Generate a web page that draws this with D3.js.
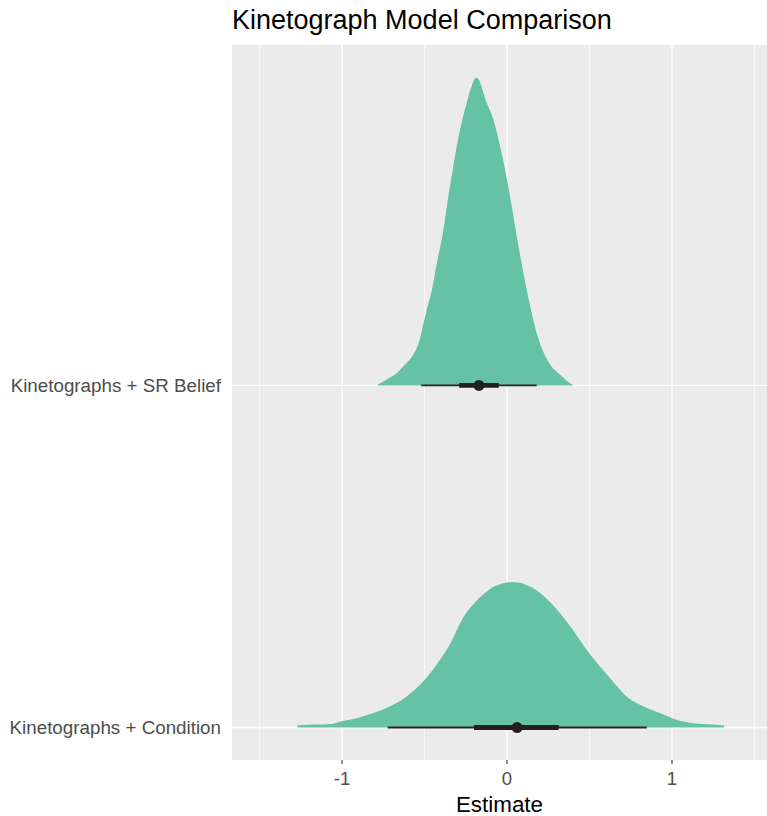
<!DOCTYPE html>
<html>
<head>
<meta charset="utf-8">
<script src="https://cdn.jsdelivr.net/npm/d3@7"></script>
<style>
  html, body { margin: 0; padding: 0; background: #ffffff; }
  svg { display: block; }
</style>
</head>
<body>
<svg id="chart" width="767" height="816"></svg>
<script>
// ---- data ----
const categories = ["Kinetographs + Condition", "Kinetographs + SR Belief"];

// density outlines (x = estimate, d = relative density)
const srBeliefX = [-0.785, -0.780, -0.729, -0.668, -0.618, -0.568, -0.532, -0.507, -0.483, -0.456, -0.426, -0.386, -0.362, -0.329, -0.293, -0.244, -0.184, -0.123, -0.083, -0.056, -0.012, 0.026, 0.053, 0.089, 0.129, 0.176, 0.210, 0.261, 0.321, 0.392, 0.398];
const srBeliefD = [0.003, 0.004, 0.019, 0.040, 0.068, 0.100, 0.144, 0.199, 0.253, 0.307, 0.395, 0.504, 0.591, 0.700, 0.809, 0.918, 1.000, 0.918, 0.864, 0.809, 0.700, 0.591, 0.504, 0.395, 0.286, 0.177, 0.122, 0.068, 0.035, 0.004, 0.003];

const conditionX = [-1.270, -1.265, -1.062, -1.002, -0.911, -0.810, -0.709, -0.608, -0.507, -0.426, -0.345, -0.265, -0.184, -0.103, -0.040, 0.000, 0.040, 0.079, 0.130, 0.180, 0.281, 0.382, 0.503, 0.624, 0.725, 0.826, 0.927, 1.028, 1.129, 1.311, 1.316];
const conditionD = [0.006, 0.007, 0.011, 0.020, 0.030, 0.047, 0.069, 0.101, 0.150, 0.205, 0.271, 0.358, 0.412, 0.450, 0.466, 0.471, 0.472, 0.470, 0.460, 0.445, 0.396, 0.330, 0.238, 0.161, 0.101, 0.069, 0.047, 0.025, 0.014, 0.007, 0.006];

// point + interval summaries (order follows categories)
const medians = [0.061, -0.170];
const lower66 = [-0.200, -0.290];
const upper66 = [0.313, -0.050];
const lower95 = [-0.723, -0.520];
const upper95 = [0.847, 0.180];

const xTicks = [-1, 0, 1];
const xMinor = [-1.5, -0.5, 0.5, 1.5];

const titleText = "Kinetograph Model Comparison";
const xTitle = "Estimate";

// ---- layout ----
const svg = d3.select("#chart");
const panel = { left: 232, right: 767, top: 45, bottom: 760 };
const font = "Liberation Sans, Arial, sans-serif";

const x = d3.scaleLinear().domain([-1.667, 1.576]).range([panel.left, panel.right]);
// categories at positions 1 and 2, continuous expansion like ggplot
const y = d3.scaleLinear().domain([0.905, 2.995]).range([panel.bottom, panel.top]);
const catPos = d3.scaleOrdinal().domain(categories).range([1, 2]);

const maxD = d3.max(srBeliefD.concat(conditionD));
const thick = d3.scaleLinear().domain([0, maxD]).range([0, 0.9]);

// panel background
svg.append("rect")
  .attr("x", panel.left).attr("y", panel.top)
  .attr("width", panel.right - panel.left).attr("height", panel.bottom - panel.top)
  .attr("fill", "#EBEBEB");

// gridlines
svg.append("g").selectAll("line").data(xMinor).join("line")
  .attr("x1", d => x(d)).attr("x2", d => x(d))
  .attr("y1", panel.top).attr("y2", panel.bottom)
  .attr("stroke", "#ffffff").attr("stroke-width", 0.7);
svg.append("g").selectAll("line").data(xTicks).join("line")
  .attr("x1", d => x(d)).attr("x2", d => x(d))
  .attr("y1", panel.top).attr("y2", panel.bottom)
  .attr("stroke", "#ffffff").attr("stroke-width", 1.3);
svg.append("g").selectAll("line").data(categories).join("line")
  .attr("x1", panel.left).attr("x2", panel.right)
  .attr("y1", d => y(catPos(d))).attr("y2", d => y(catPos(d)))
  .attr("stroke", "#ffffff").attr("stroke-width", 1.3);

// densities
const densities = [
  { cat: categories[0], xs: conditionX, ds: conditionD },
  { cat: categories[1], xs: srBeliefX, ds: srBeliefD }
];
const area = d3.area().curve(d3.curveMonotoneX);
densities.forEach(s => {
  const base = catPos(s.cat);
  const pts = s.xs.map((v, i) => [v, s.ds[i]]);
  area.x(d => x(d[0]))
      .y0(() => y(base))
      .y1(d => y(base + thick(d[1])));
  svg.append("path").datum(pts)
    .attr("d", area)
    .attr("fill", "#66C2A5");
});

// intervals
const ig = svg.append("g");
categories.forEach((c, i) => {
  const yy = y(catPos(c));
  ig.append("line")
    .attr("x1", x(lower95[i])).attr("x2", x(upper95[i]))
    .attr("y1", yy).attr("y2", yy)
    .attr("stroke", "#2b2526").attr("stroke-width", 1.8);
  ig.append("line")
    .attr("x1", x(lower66[i])).attr("x2", x(upper66[i]))
    .attr("y1", yy).attr("y2", yy)
    .attr("stroke", "#231e1f").attr("stroke-width", 4.8);
  ig.append("circle")
    .attr("cx", x(medians[i])).attr("cy", yy).attr("r", 5.5)
    .attr("fill", "#231e1f");
});

// x axis
const xa = svg.append("g");
xa.selectAll("line").data(xTicks).join("line")
  .attr("x1", d => x(d)).attr("x2", d => x(d))
  .attr("y1", panel.bottom).attr("y2", panel.bottom + 4)
  .attr("stroke", "#333333").attr("stroke-width", 1.1);
xa.selectAll("text").data(xTicks).join("text")
  .attr("x", d => x(d)).attr("y", panel.bottom + 25)
  .attr("text-anchor", "middle")
  .attr("font-family", font)
  .attr("font-size", 18.6)
  .attr("fill", "#4D4D4D")
  .text(d => d);

// y axis labels
svg.append("g").selectAll("text").data(categories).join("text")
  .attr("x", panel.left - 11).attr("y", d => y(catPos(d)))
  .attr("dy", "0.35em")
  .attr("text-anchor", "end")
  .attr("font-family", font)
  .attr("font-size", 18.8)
  .attr("fill", "#4D4D4D")
  .text(d => d);

// titles
svg.append("text")
  .attr("x", (panel.left + panel.right) / 2).attr("y", 812)
  .attr("text-anchor", "middle")
  .attr("font-family", font)
  .attr("font-size", 22.4)
  .attr("fill", "#000000")
  .text(xTitle);

svg.append("text")
  .attr("x", panel.left).attr("y", 29)
  .attr("font-family", font)
  .attr("font-size", 27)
  .attr("fill", "#000000")
  .text(titleText);
</script>
</body>
</html>
